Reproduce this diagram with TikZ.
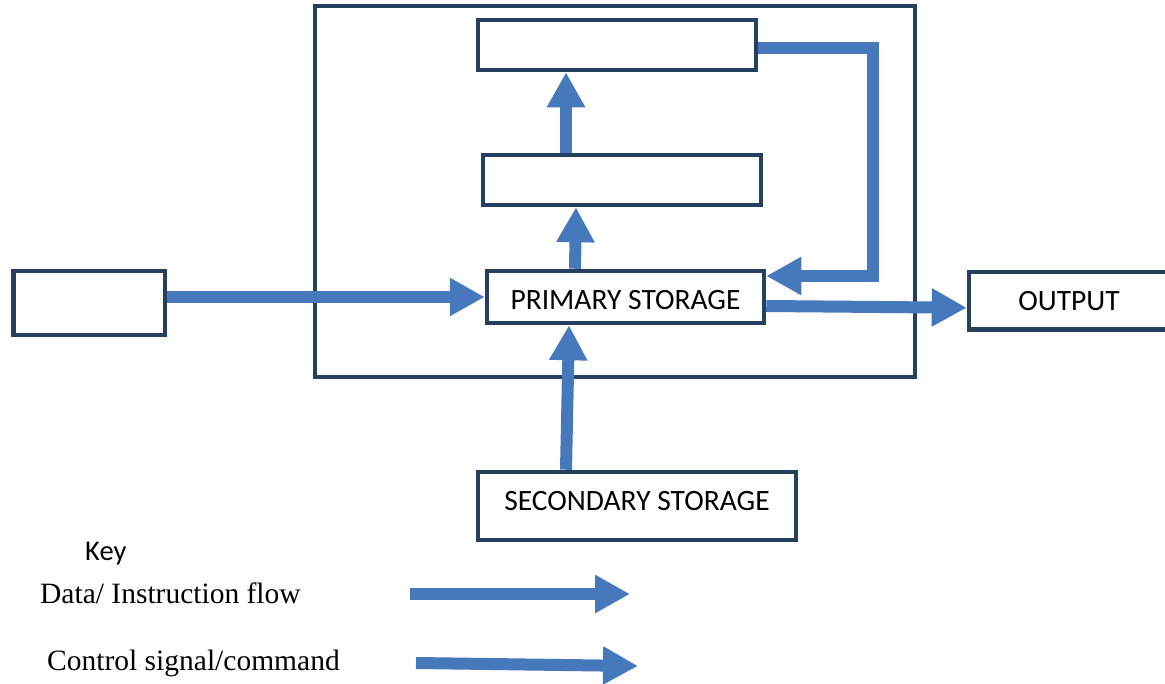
\documentclass[tikz,border=0pt]{standalone}
\usepackage{fontspec}
\setmainfont{Carlito}
\newfontfamily\keyserif{Liberation Serif}
\usetikzlibrary{arrows.meta}
\definecolor{boxc}{RGB}{38,64,96}
\definecolor{flowc}{RGB}{70,121,187}
\begin{document}
\begin{tikzpicture}[x=1pt,y=-1pt,
  box/.style={draw=boxc, line width=4.5pt, inner sep=0pt, fill=white,
    font=\fontsize{29.5}{31}\selectfont, text height=19pt, text depth=0pt},
  frame/.style={draw=boxc, line width=4.5pt, inner sep=0pt},
  flow/.style={draw=flowc, line width=12pt, line join=miter,
    -{Triangle[length=35pt,width=36pt]}},
  keytext/.style={inner sep=0pt, anchor=base west, font=\keyserif\fontsize{29.5}{31}\selectfont},
  keyhead/.style={inner sep=0pt, anchor=base west, font=\fontsize{28.5}{30}\selectfont}]
\useasboundingbox (0,0) rectangle (1165,683);
% container
\node[frame, minimum width=600pt, minimum height=371pt] (cpu) at (615,191.5) {};
% boxes
\node[box, minimum width=278pt, minimum height=50pt] (top) at (617,45) {};
\node[box, minimum width=278pt, minimum height=50pt] (mid) at (622,180) {};
\node[box, minimum width=277pt, minimum height=52pt, text height=25pt] (prim) at (625.5,297) {PRIMARY STORAGE};
\node[box, minimum width=151.5pt, minimum height=64pt] (inp) at (89,303) {};
\node[box, minimum width=200pt, minimum height=57.5pt, text height=19pt] (out) at (1069,300.75) {OUTPUT};
\node[box, minimum width=318pt, minimum height=68pt, text height=9pt] (sec) at (637,506) {SECONDARY STORAGE};
% connectors
\draw[flow] ([yshift=6pt]inp.east) -- (prim.west);
\draw[flow] ([yshift=-9pt]prim.east) -- ([yshift=-7pt]out.west);
\draw[flow] ([xshift=-56pt]mid.north) -- ([xshift=-51pt]top.south);
\draw[flow] ([xshift=-50.5pt]prim.north) -- ([xshift=-46pt]mid.south);
\draw[flow] ([xshift=-71pt]sec.north) -- ([xshift=-56.5pt]prim.south);
\draw[flow] ([yshift=-3pt]top.east) -- ++(115,0) |- ([yshift=21pt]prim.east);
% key
\node[keyhead] (key) at (85,560) {Key};
\node[keytext] (kdata) at (40,603) {Data/ Instruction flow};
\node[keytext] (kctrl) at (47,670) {Control signal/command};
\coordinate (k1a) at (410,594);
\coordinate (k1b) at (630,594);
\coordinate (k2a) at (416,663);
\coordinate (k2b) at (638,666);
\draw[flow] (k1a) -- (k1b);
\draw[flow] (k2a) -- (k2b);
\end{tikzpicture}
\end{document}
